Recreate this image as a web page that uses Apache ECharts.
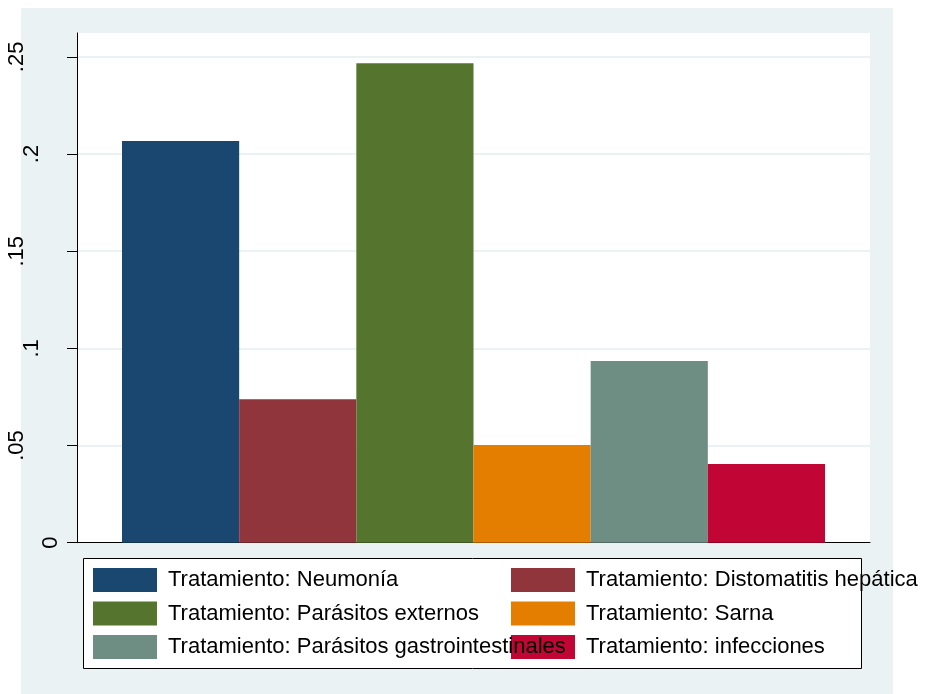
<!DOCTYPE html>
<html>
<head>
<meta charset="utf-8">
<script src="https://cdn.jsdelivr.net/npm/echarts@6/dist/echarts.min.js"></script>
<style>
html,body{margin:0;padding:0;background:#fff;}
#chart{width:925px;height:694px;}
</style>
</head>
<body>
<div id="chart"></div>
<script>
// ---- data ----
var seriesNames = [
  'Tratamiento: Neumonía',
  'Tratamiento: Distomatitis hepática',
  'Tratamiento: Parásitos externos',
  'Tratamiento: Sarna',
  'Tratamiento: Parásitos gastrointestinales',
  'Tratamiento: infecciones'
];
var seriesValues = [0.2067, 0.0738, 0.2467, 0.0503, 0.0935, 0.0405];
var seriesColors = ['#1A476F', '#90353B', '#55752F', '#E37E00', '#6E8E84', '#C10534'];
var yTickValues = [0, 0.05, 0.1, 0.15, 0.2, 0.25];
var yTickLabels = ['0', '.05', '.1', '.15', '.2', '.25'];
var legendCol1 = [seriesNames[0], seriesNames[2], seriesNames[4]];
var legendCol2 = [seriesNames[1], seriesNames[3], seriesNames[5]];

var FONT = '"Liberation Sans", Arial, Helvetica, sans-serif';
var BG = '#EAF2F3';

var chart = echarts.init(document.getElementById('chart'), null, {renderer: 'canvas'});

function labelKey(s) {
  if (s === '0') return 'k1';
  if (s.length === 2) return 'k2';
  return 'k3';
}

var series = seriesNames.map(function (n, i) {
  return {
    name: n,
    type: 'bar',
    data: [seriesValues[i]],
    itemStyle: {color: seriesColors[i]},
    barGap: '0%',
    barCategoryGap: '11.35%',
    emphasis: {disabled: true}
  };
});

var legendBase = {
  orient: 'vertical',
  itemWidth: 64,
  itemHeight: 24,
  itemGap: 9.5,
  padding: 0,
  icon: 'rect',
  selectedMode: false,
  textStyle: {color: '#000', fontSize: 22, fontFamily: FONT, lineHeight: 24, padding: [0, 0, 0, 6]}
};

chart.setOption({
  animation: false,
  backgroundColor: '#fff',
  graphic: [
    {type: 'rect', z: -100, silent: true, shape: {x: 21, y: 8, width: 872, height: 686}, style: {fill: BG}},
    {type: 'rect', z: 1, silent: true, shape: {x: 83.5, y: 558.5, width: 778, height: 110}, style: {fill: '#fff', stroke: '#000', lineWidth: 1}}
  ],
  grid: {
    left: 77, right: 55, top: 33, bottom: 151.3,
    show: true, backgroundColor: '#fff', borderWidth: 0, borderColor: 'transparent',
    containLabel: false, outerBoundsMode: 'none'
  },
  xAxis: {
    type: 'category',
    data: [''],
    axisLine: {show: true, lineStyle: {color: '#000', width: 1}},
    axisTick: {show: false},
    axisLabel: {show: false},
    splitLine: {show: false}
  },
  yAxis: {
    type: 'value',
    min: 0,
    max: 0.2623,
    interval: 0.05,
    axisLine: {show: true, lineStyle: {color: '#000', width: 1}},
    axisTick: {show: true, length: 10, lineStyle: {color: '#000', width: 1}, customValues: yTickValues},
    splitLine: {show: true, lineStyle: {color: BG, width: 2}},
    axisLabel: {
      customValues: yTickValues,
      rotate: 90,
      margin: 15,
      align: 'center',
      verticalAlign: 'bottom',
      color: '#000',
      fontSize: 22,
      fontFamily: FONT,
      formatter: function (v) {
        var idx = -1;
        for (var i = 0; i < yTickValues.length; i++) {
          if (Math.abs(yTickValues[i] - v) < 1e-9) idx = i;
        }
        if (idx < 0) return '';
        var s = yTickLabels[idx];
        return '{' + labelKey(s) + '|' + s + '}';
      },
      rich: {
        k1: {fontSize: 22, fontFamily: FONT, color: '#000', lineHeight: 22},
        k2: {fontSize: 22, fontFamily: FONT, color: '#000', lineHeight: 60},
        k3: {fontSize: 22, fontFamily: FONT, color: '#000', lineHeight: 91}
      }
    }
  },
  legend: [
    Object.assign({}, legendBase, {left: 93, top: 568, z: 6, data: legendCol1}),
    Object.assign({}, legendBase, {left: 511, top: 568, z: 5, data: legendCol2})
  ],
  series: series
});
</script>
</body>
</html>
